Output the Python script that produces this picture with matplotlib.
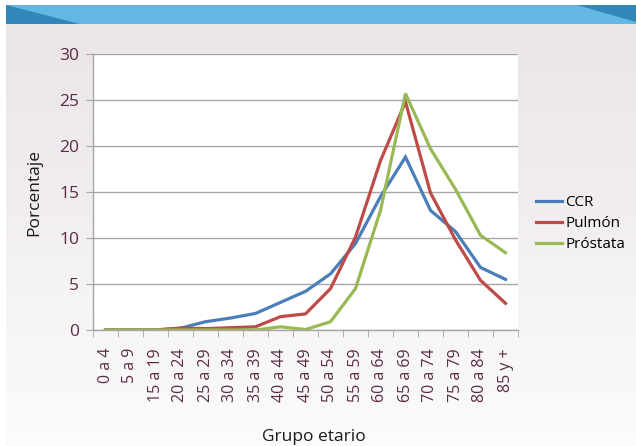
import numpy as np
import matplotlib.pyplot as plt
from matplotlib.patches import Polygon, Rectangle

plt.rcParams['font.family'] = ['Open Sans', 'DejaVu Sans']

grupos = ['0 a 4', '5 a 9', '15 a 19', '20 a 24', '25 a 29', '30 a 34', '35 a 39',
          '40 a 44', '45 a 49', '50 a 54', '55 a 59', '60 a 64', '65 a 69',
          '70 a 74', '75 a 79', '80 a 84', '85 y +']
ccr = [0, 0, 0, 0.2, 0.9, 1.3, 1.8, 3.0, 4.2, 6.1, 9.4, 14.5, 18.8, 13.0, 10.7, 6.8, 5.5]
pulmon = [0, 0, 0, 0.2, 0.15, 0.25, 0.35, 1.45, 1.75, 4.5, 10.1, 18.4, 24.8, 14.9, 9.8, 5.4, 2.9]
prostata = [0, 0, 0, 0, 0, 0, 0, 0.35, 0.05, 0.9, 4.5, 13.0, 25.7, 19.7, 15.3, 10.3, 8.4]

series = [('CCR', ccr, '#4a7ebb'), ('Pulmón', pulmon, '#be4b48'), ('Próstata', prostata, '#98b954')]
tick_color = '#5b2a45'

fig = plt.figure(figsize=(6.36, 4.46), dpi=100)

# background: pinkish grey fading to near white, with the blue header band
bg = fig.add_axes([0, 0, 1, 1], zorder=-10)
bg.set_xlim(0, 636)
bg.set_ylim(446, 0)
bg.axis('off')
grad = np.linspace(0, 1, 256).reshape(-1, 1)
top = np.array([0.922, 0.898, 0.910])
bot = np.array([0.988, 0.988, 0.988])
img = top + (bot - top) * grad[..., None] ** 1.1
bg.imshow(img, extent=[6, 636, 446, 24], aspect='auto', zorder=0)
bg.add_patch(Rectangle((6, 5), 630, 19, color='#63b8e2', lw=0, zorder=1))
bg.add_patch(Polygon([(6, 5), (6, 24), (80, 24)], closed=True, color='#2f87ba', lw=0, zorder=2))
bg.add_patch(Polygon([(577, 5), (636, 5), (636, 22)], closed=True, color='#2f87ba', lw=0, zorder=2))

ax = fig.add_axes([93 / 636, 116 / 446, 425 / 636, 276 / 446])
ax.set_facecolor('white')
x = np.arange(len(grupos))
for name, vals, col in series:
    ax.plot(x, vals, color=col, lw=2.3, label=name, solid_joinstyle='miter')

ax.set_xlim(-0.5, len(grupos) - 0.5)
ax.set_ylim(0, 30)
ax.set_yticks(range(0, 31, 5))
ax.yaxis.grid(True, color='#a6a6a6', lw=1)
ax.set_axisbelow(True)

ax.set_xticks(x)
ax.set_xticklabels(grupos, rotation=90, fontsize=11.5, color=tick_color)
ax.set_xticks(np.arange(-0.5, len(grupos), 1), minor=True)
ax.tick_params(axis='x', which='major', length=0, pad=13)
ax.tick_params(axis='x', which='minor', length=5, color='#a6a6a6', direction='out')
ax.tick_params(axis='y', length=5, color='#a6a6a6', labelsize=12.5, labelcolor=tick_color, pad=5)

for s in ['top', 'right']:
    ax.spines[s].set_visible(False)
for s in ['left', 'bottom']:
    ax.spines[s].set_color('#a6a6a6')
    ax.spines[s].set_linewidth(1)

ax.set_ylabel('Porcentaje', fontsize=12.5, color='#1a1a1a', labelpad=12)
fig.text(314 / 636, 1 - 437 / 446, 'Grupo etario', ha='center', va='center',
         fontsize=12.5, color='#1a1a1a')

ax.legend(loc='center left', bbox_to_anchor=(1.01, 0.385), frameon=False,
          fontsize=11, handlelength=1.7, handletextpad=0.2, labelspacing=0.4)

fig.savefig('out.png', dpi=100)
